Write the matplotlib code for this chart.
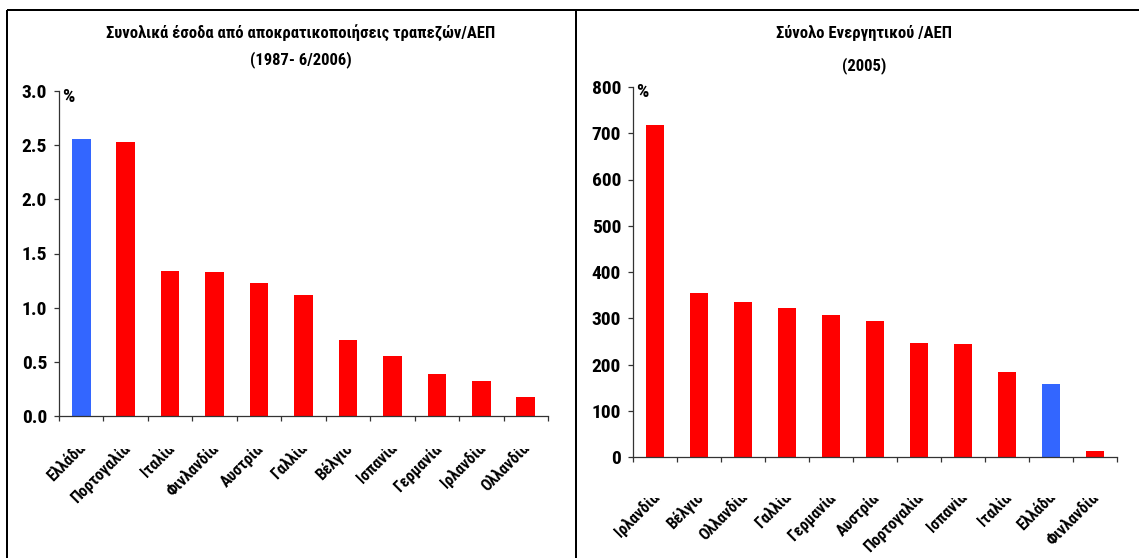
import numpy as np
import matplotlib
matplotlib.use("Agg")
import matplotlib.pyplot as plt
from matplotlib.lines import Line2D
from matplotlib.transforms import Bbox, TransformedBbox, ScaledTranslation

plt.rcParams['font.family'] = ['Liberation Sans Narrow', 'Roboto Condensed',
                               'Open Sans Condensed', 'DejaVu Sans']

# Privatisation revenue from banks / GDP (1987 - 6/2006)
left_countries = ["Ελλάδα", "Πορτογαλία", "Ιταλία", "Φινλανδία", "Αυστρία", "Γαλλία",
                  "Βέλγιο", "Ισπανία", "Γερμανία", "Ιρλανδία", "Ολλανδία"]
left_values = [2.56, 2.53, 1.34, 1.33, 1.23, 1.12, 0.70, 0.55, 0.39, 0.32, 0.18]
left_ticks = [0.0, 0.5, 1.0, 1.5, 2.0, 2.5, 3.0]

# Total bank assets / GDP (2005)
right_countries = ["Ιρλανδία", "Βέλγιο", "Ολλανδία", "Γαλλία", "Γερμανία", "Αυστρία",
                   "Πορτογαλία", "Ισπανία", "Ιταλία", "Ελλάδα", "Φινλανδία"]
right_values = [717, 355, 336, 322, 307, 294, 246, 244, 184, 158, 14]
right_ticks = [0, 100, 200, 300, 400, 500, 600, 700, 800]

highlight = "Ελλάδα"
RED = "#ff0000"
BLUE = "#3366ff"

W, H = 1139, 558
fig = plt.figure(figsize=(W / 100, H / 100), dpi=100)


def px_rect(x0, x1, ytop, ybot):
    return [x0 / W, 1 - ybot / H, (x1 - x0) / W, (ybot - ytop) / H]


def draw_panel(rect, cats, vals, ticks, fmt, title1, title2, title_x, base1, base2,
               label_drop, clip_drop):
    ax = fig.add_axes(rect)
    x = np.arange(len(cats))
    colors = [BLUE if c == highlight else RED for c in cats]
    ax.bar(x, vals, width=0.42, color=colors, edgecolor="none", zorder=2)
    ax.set_xlim(-0.5, len(cats) - 0.5)
    ax.set_ylim(ticks[0], ticks[-1])
    ax.set_yticks(ticks)
    ax.set_yticklabels([fmt.format(t) for t in ticks], fontsize=14, fontweight="bold")
    ax.set_xticks(np.arange(-0.5, len(cats), 1.0))
    ax.set_xticklabels([])
    for s in ("top", "right"):
        ax.spines[s].set_visible(False)
    for s in ("left", "bottom"):
        ax.spines[s].set_color("#333333")
        ax.spines[s].set_linewidth(0.9)
    ax.tick_params(axis="both", direction="out", length=3.6, width=0.9, color="#333333")
    ax.tick_params(axis="y", pad=5)

    # unit marker next to the top of the value axis
    ax.text(0.006, 1.01, "%", transform=ax.transAxes, ha="left", va="top",
            fontsize=14, fontweight="bold")

    # titles
    fig.text(title_x / W, 1 - base1 / H, title1, ha="center", va="baseline",
             fontsize=12, fontweight="bold")
    fig.text(title_x / W, 1 - base2 / H, title2, ha="center", va="baseline",
             fontsize=12, fontweight="bold")

    # rotated category names, trimmed at a fixed line below the axis
    axis_y_px = H - (rect[1] * H)
    clip_y = 1 - (axis_y_px + clip_drop) / H
    clip = TransformedBbox(Bbox([[0, 0], [1, clip_y]]), fig.transFigure)
    trans = ax.get_xaxis_transform() + ScaledTranslation(2 / 100, -label_drop / 100,
                                                          fig.dpi_scale_trans)
    for xi, name in zip(x, cats):
        t = ax.text(xi, 0, name, transform=trans, rotation=45, rotation_mode="anchor",
                    ha="right", va="center", fontsize=11.5, fontweight="bold")
        t.set_clip_on(True)
        t.set_clip_box(clip)
    return ax


draw_panel(px_rect(59, 548, 91, 416), left_countries, left_values, left_ticks, "{:.1f}",
           "Συνολικά έσοδα από αποκρατικοποιήσεις τραπεζών/ΑΕΠ", "(1987- 6/2006)",
           301, 38, 64, 30, 33)
draw_panel(px_rect(633, 1117, 87, 457), right_countries, right_values, right_ticks, "{:d}",
           "Σύνολο Ενεργητικού /ΑΕΠ", "(2005)",
           864, 38, 70, 38, 41)

# outer frame of the two-panel layout
lw = 2.0 * 72 / 100
ytop = 1 - 9.5 / H
fig.add_artist(Line2D([6.5 / W, 1], [ytop, ytop], color="black", lw=lw,
                      transform=fig.transFigure, solid_capstyle="butt"))
fig.add_artist(Line2D([6.5 / W, 6.5 / W], [0, ytop], color="black", lw=lw,
                      transform=fig.transFigure, solid_capstyle="butt"))
fig.add_artist(Line2D([575.5 / W, 575.5 / W], [0, ytop], color="black", lw=lw,
                      transform=fig.transFigure, solid_capstyle="butt"))

fig.savefig("out.png", dpi=100)
